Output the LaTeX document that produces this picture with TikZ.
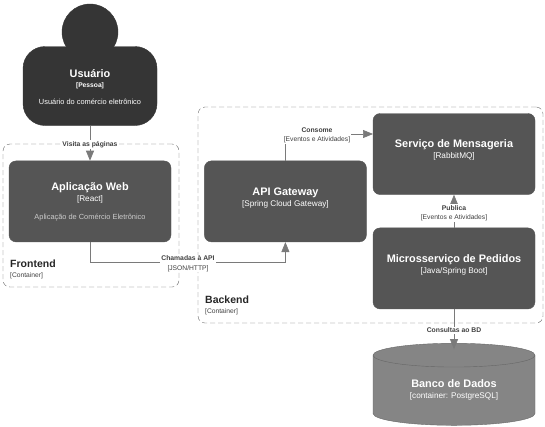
\documentclass[tikz,border=0pt]{standalone}
\usepackage{fontspec}
\setmainfont{Liberation Sans}
\usepackage{tikz}
\usetikzlibrary{arrows.meta,calc,positioning,shapes.geometric}
\usepackage{xcolor}
\definecolor{PessoaDark}{HTML}{353535}
\definecolor{CaixaGray}{HTML}{555555}
\definecolor{BancoGray}{HTML}{858585}
\definecolor{LinhaGray}{HTML}{7A7A7A}
\definecolor{BordaGray}{HTML}{666666}
\definecolor{TextoGray}{HTML}{404040}
\newcommand{\titulo}[1]{{\fontsize{10.9}{13}\selectfont\bfseries #1}}
\newcommand{\grupo}[1]{{\fontsize{10.5}{13}\selectfont\bfseries #1}}
\newcommand{\tipo}[1]{{\fontsize{8.2}{10}\selectfont #1}}
\newcommand{\rotulo}[1]{{\fontsize{6.8}{9}\selectfont\bfseries #1}}
\newcommand{\nota}[1]{{\fontsize{6.7}{9}\selectfont #1}}
\newcommand{\detalhe}[1]{{\fontsize{7.4}{9}\selectfont #1}}

\begin{document}
\begin{tikzpicture}[
    x=1pt,y=-1pt,
    node distance=33pt and 33pt,
    box/.style={draw=CaixaGray,fill=CaixaGray,rounded corners=7pt,text=white,
      minimum width=162pt,minimum height=81pt,align=center},
    limite/.style={draw=BordaGray,dash pattern=on 5pt off 3pt,rounded corners=7pt,inner sep=0pt},
    legenda/.style={anchor=west,align=left,text=TextoGray,inner sep=0pt},
    etiqueta/.style={fill=white,align=center,inner sep=1pt,text=TextoGray},
    arr/.style={-{Triangle[length=10pt,width=8pt]},draw=LinhaGray,line width=.7pt}
  ]
    \useasboundingbox (0,0) rectangle (545,426);
    \fill[white] (0,0) rectangle (545,426);
    % limites
    \node[limite,minimum width=176pt,minimum height=143pt] (frontend) at (91,215.5) {};
    \node[limite,minimum width=345pt,minimum height=216pt] (backend) at (370.5,215) {};
    \node[legenda] (frontendtxt) at (10,269) {\grupo{\color{black!85}Frontend}\\[-2pt]\nota{[Container]}};
    \node[legenda] (backendtxt) at (205,305.5) {\grupo{\color{black!85}Backend}\\[-2pt]\nota{[Container]}};
    % pessoa
    \node[draw=PessoaDark,fill=PessoaDark,circle,minimum size=56pt] (cabeca) at (90,32) {};
    \node[box,draw=PessoaDark,fill=PessoaDark,rounded corners=22pt,minimum width=134pt,minimum height=79pt] (usuario) at (90,86) {
      \nota{~}\\[-1pt]\titulo{Usuário}\\[-2pt]\nota{\bfseries [Pessoa]}\\[5pt]\detalhe{Usuário do comércio eletrônico}};
    % caixas
    \node[box,below=35pt of usuario] (web) {\titulo{Aplicação Web}\\[-1pt]\tipo{[React]}\\[6pt]\textcolor{white!80!black}{\detalhe{Aplicação de Comércio Eletrônico}}};
    \node[box,right=33pt of web] (gateway) {\titulo{API Gateway}\\[-1pt]\tipo{[Spring Cloud Gateway]}\\[-3pt]\nota{~}};
    \node[box] (mensageria) at (454,154) {\titulo{Serviço de Mensageria}\\[-1pt]\tipo{[RabbitMQ]}\\[-3pt]\nota{~}};
    \node[box,below=33pt of mensageria] (pedidos) {\titulo{Microsserviço de Pedidos}\\[-1pt]\tipo{[Java/Spring Boot]}\\[-3pt]\nota{~}};
    \node[cylinder,shape border rotate=90,aspect=.25,draw=black!60,fill=BancoGray,text=white,
      minimum width=162pt,minimum height=82pt,align=center,below=34pt of pedidos] (banco)
      {\titulo{Banco de Dados}\\[-1pt]\tipo{[container: PostgreSQL]}\\[-6pt]\nota{~}};
    % pontos auxiliares
    \coordinate (rota) at ($(web.south)+(0,20)$);
    \coordinate (entrada) at (373,134);
    \coordinate (topo) at ($(banco.north)+(0,6)$);
    % conectores
    \draw[arr] (usuario)--(web);
    \draw[arr] (web.south)|-(rota)-|(gateway.south);
    \draw[arr] (gateway.north)|-(entrada);
    \draw[arr] (pedidos)--(mensageria);
    \draw[arr] (pedidos)--(topo);
    % rotulos
    \node[etiqueta] (visita) at (90,144.5) {\rotulo{Visita as páginas}};
    \node[etiqueta] (chamadas) at (188,263.5) {\rotulo{Chamadas à API}\\[-2.5pt]\nota{[JSON/HTTP]}};
    \node[etiqueta] (consome) at (317,135.5) {\rotulo{Consome}\\[-2.5pt]\nota{[Eventos e Atividades]}};
    \node[etiqueta] (publica) at (454,213) {\rotulo{Publica}\\[-2.5pt]\nota{[Eventos e Atividades]}};
    \node[etiqueta] (consultas) at (454,330) {\rotulo{Consultas ao BD}};
  \end{tikzpicture}
\end{document}
